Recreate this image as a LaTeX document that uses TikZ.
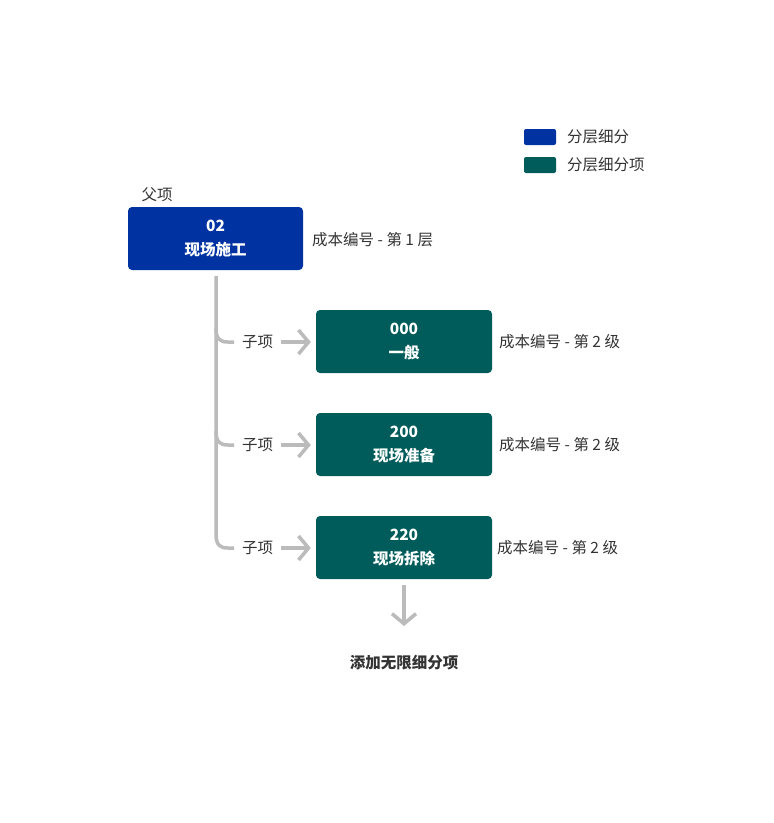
\documentclass[tikz,border=0pt]{standalone}
\usepackage{fontspec}
\setmainfont{Noto Sans CJK SC}
\usetikzlibrary{arrows.meta}
\definecolor{pblue}{HTML}{0033A1}
\definecolor{pteal}{HTML}{005B5B}
\definecolor{lgrey}{HTML}{BBBBBB}
\definecolor{txt}{HTML}{333333}
\tikzset{
  pbox/.style={fill=pblue, rounded corners=4pt, minimum width=175pt, minimum height=63pt, inner sep=0pt, text=white, font=\fontsize{15.5}{24}\selectfont\bfseries, align=center},
  cbox/.style={pbox, fill=pteal, minimum width=176pt},
  lbl/.style={text=txt, font=\fontsize{15.5}{18}\selectfont, inner sep=0pt},
  conn/.style={draw=lgrey, line width=3.5pt},
  arr/.style={draw=lgrey, line width=3.5pt, -{Straight Barb[length=10pt,width=24pt,line width=3.5pt]}},
}
\begin{document}
\begin{tikzpicture}[x=1pt,y=-1pt]
\useasboundingbox (0,0) rectangle (774,823);
% legend
\fill[pblue, rounded corners=2pt] (524,129) rectangle (556,145);
\fill[pteal, rounded corners=2pt] (524,157) rectangle (556,173);
\node[lbl, anchor=west] (lg1) at (567,137) {分层细分};
\node[lbl, anchor=west] (lg2) at (567,165) {分层细分项};
% parent
\node[lbl] (fx) at (157,195) {父项};
\node[pbox] (p) at (215.5,238.5) {02\\现场施工};
\node[lbl, anchor=west] (pl) at (312,240) {成本编号 - 第 1 层};
% children
\node[cbox] (c1) at (404,341.5) {000\\一般};
\node[cbox] (c2) at (404,444.5) {200\\现场准备};
\node[cbox] (c3) at (404,547.5) {220\\现场拆除};
\node[lbl, anchor=west] (l1) at (499,342) {成本编号 - 第 2 级};
\node[lbl, anchor=west] (l2) at (499,445) {成本编号 - 第 2 级};
\node[lbl, anchor=west] (l3) at (497,548) {成本编号 - 第 2 级};
\node[lbl] (s1) at (257.5,342) {子项};
\node[lbl] (s2) at (257.5,445) {子项};
\node[lbl] (s3) at (257.5,548) {子项};
% connectors
\coordinate (top) at (216,276);
\coordinate (b1) at (234,342);
\coordinate (b2) at (234,445);
\coordinate (b3) at (234,548);
\draw[conn] (top) -- (216,534) .. controls (216,545) and (220,548) .. (228,548) -- (b3);
\draw[conn] (216,328) .. controls (216,339) and (220,342) .. (228,342) -- (b1);
\draw[conn] (216,431) .. controls (216,442) and (220,445) .. (228,445) -- (b2);
\draw[arr] ([xshift=8pt]s1.east) -- ([xshift=-5pt]c1.west |- s1.east);
\draw[arr] ([xshift=8pt]s2.east) -- ([xshift=-5pt]c2.west |- s2.east);
\draw[arr] ([xshift=8pt]s3.east) -- ([xshift=-5pt]c3.west |- s3.east);
\node[lbl, font=\fontsize{15.5}{18}\selectfont\bfseries] (add) at (404,663) {添加无限细分项};
\coordinate (d1) at (404,585);
\coordinate (d2) at (404,626);
\draw[arr] (d1) -- (d2);
\end{tikzpicture}
\end{document}
